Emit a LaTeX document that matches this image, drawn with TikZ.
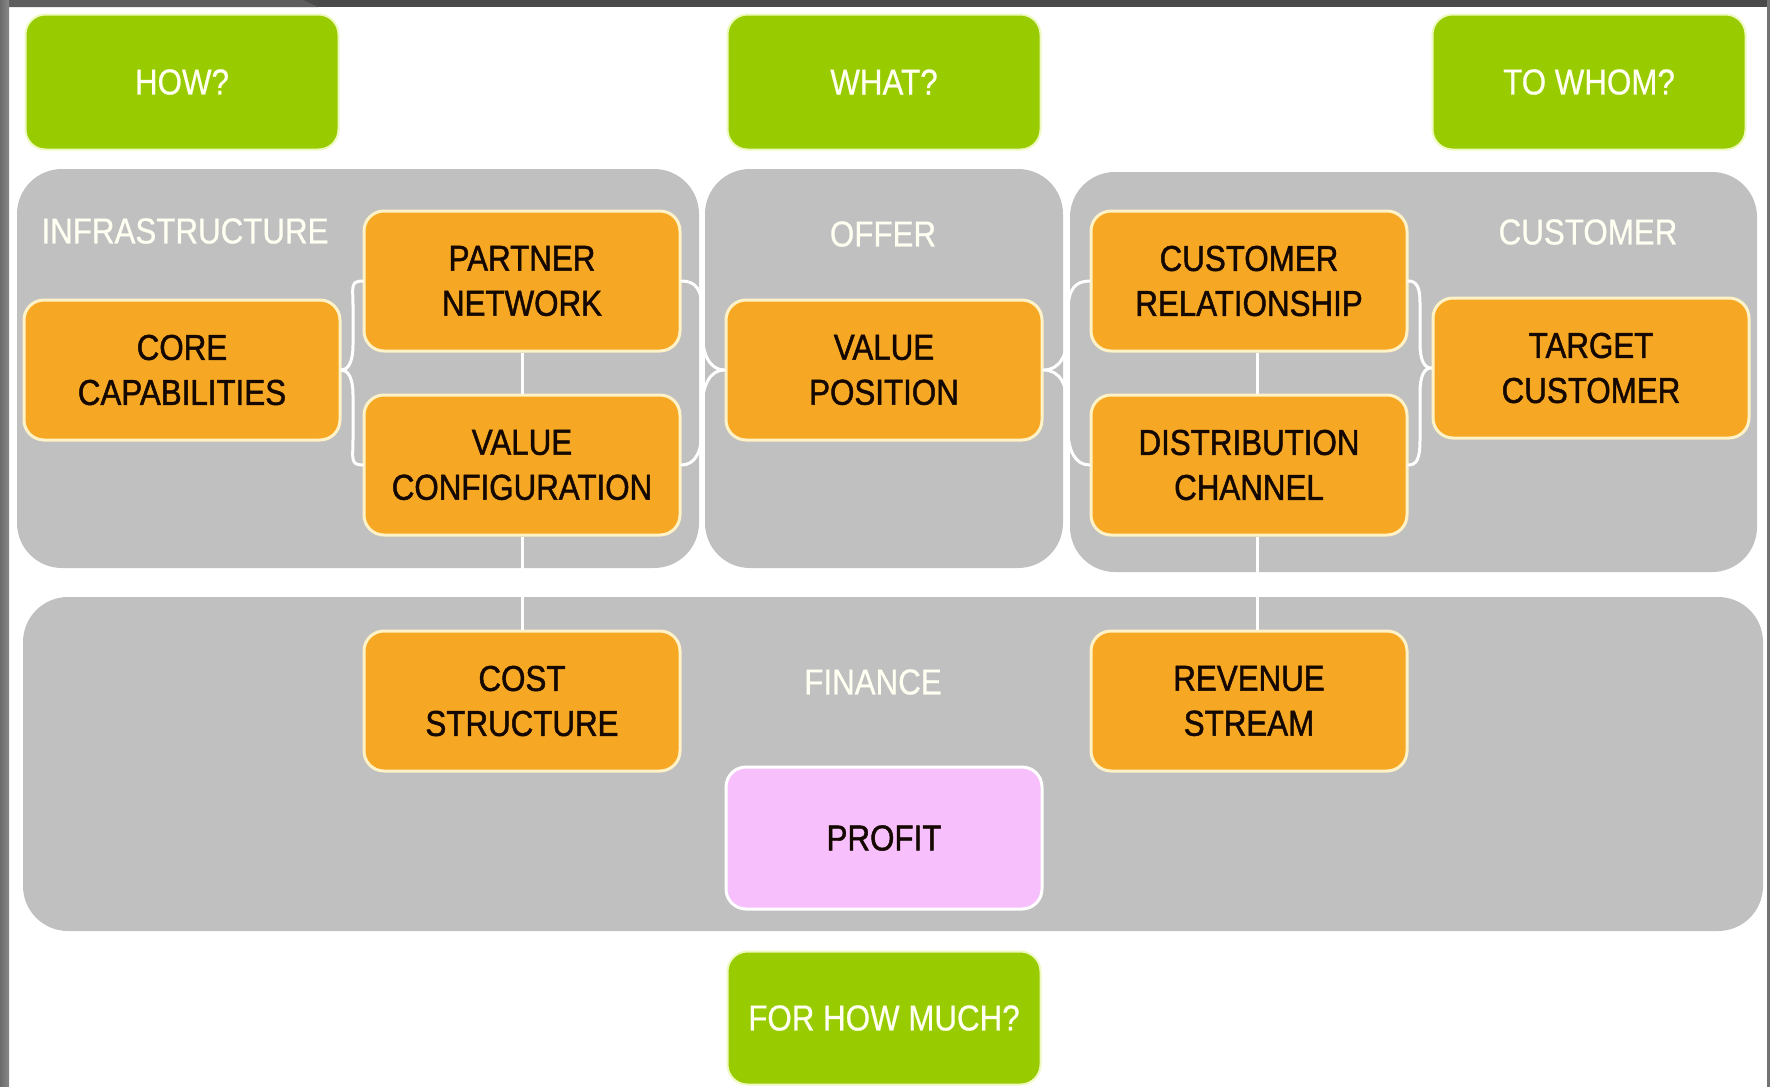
\documentclass[tikz,border=0pt]{standalone}
\usepackage{fontspec}
\setmainfont{Liberation Sans}[FakeStretch=0.87]
\newfontfamily\ofont{Liberation Sans}[FakeStretch=0.87, FakeBold=1.3]
\newfontfamily\wfont{Liberation Sans}[FakeStretch=0.87, FakeBold=0.6]
\definecolor{grn}{HTML}{99CC00}
\definecolor{gbord}{HTML}{EEF9C0}
\definecolor{orng}{HTML}{F6A824}
\definecolor{obord}{HTML}{FFF2C6}
\definecolor{panelgray}{HTML}{C0C0C0}
\definecolor{pinkbox}{HTML}{F7BFFB}
\definecolor{ltext}{HTML}{FFFFF2}
\definecolor{otext}{HTML}{140800}
\definecolor{frametop}{HTML}{4A4A4A}
\definecolor{frametopl}{HTML}{5E5E5E}
\begin{document}
\begin{tikzpicture}[x=1pt,y=-1pt,
  otxt/.style={font=\ofont\fontsize{36}{45}\selectfont},
  wtxt/.style={font=\wfont\fontsize{36}{45}\selectfont},
  panel/.style={fill=panelgray, rounded corners=45pt},
  obox/.style={rectangle, rounded corners=20pt, fill=orng, draw=obord, line width=3pt,
    minimum width=316pt, minimum height=140pt, inner sep=0pt, align=center, otxt, text=otext},
  pbox/.style={obox, fill=pinkbox, draw=white, minimum height=142pt},
  gbox/.style={rectangle, rounded corners=20pt, fill=grn, draw=gbord, line width=2pt,
    minimum width=313pt, minimum height=135pt, inner sep=0pt, align=center, wtxt, text=ltext},
  plabel/.style={inner sep=0pt, wtxt, text=ltext},
  conn/.style={draw=white, line width=3pt},
  brace/.style={draw=white, line width=3pt, line join=round, line cap=round}]
\useasboundingbox (0,0) rectangle (1770,1087);
\fill[white] (0,0) rectangle (1770,1087);
% frame
\fill[frametop] (0,0) rectangle (1770,7);
\fill[frametopl] (0,0) -- (303,0) -- (318,7) -- (0,7) -- cycle;
\fill[left color=black!58, right color=black!47] (0,0) rectangle (9,1087);
\fill[black!55] (1767,0) rectangle (1770,1087);
% panels
\path[panel] (17,169) rectangle (699,568);
\path[panel] (705,169) rectangle (1063,568);
\path[panel] (1070,172) rectangle (1757,572);
\path[panel] (23,597) rectangle (1763,931);
% panel labels
\node[plabel] (linfra) at (185,231) {INFRASTRUCTURE};
\node[plabel] (loffer) at (883,234) {OFFER};
\node[plabel] (lcust) at (1588,232) {CUSTOMER};
\node[plabel] (lfin) at (873,682) {FINANCE};
% green question boxes
\node[gbox] (how) at (182,82) {HOW?};
\node[gbox] (what) at (884,82) {WHAT?};
\node[gbox] (whom) at (1589,82) {TO WHOM?};
\node[gbox, minimum height=133pt] (much) at (884,1018) {FOR HOW MUCH?};
% orange boxes
\node[obox] (core) at (182,370) {CORE\\CAPABILITIES};
\node[obox] (pn) at (522,281) {PARTNER\\NETWORK};
\node[obox] (vc) at (522,465) {VALUE\\CONFIGURATION};
\node[obox] (vp) at (884,370) {VALUE\\POSITION};
\node[obox] (crel) at (1249,281) {CUSTOMER\\RELATIONSHIP};
\node[obox] (dist) at (1249,465) {DISTRIBUTION\\CHANNEL};
\node[obox] (tc) at (1591,368) {TARGET\\CUSTOMER};
\node[obox] (cost) at (522,701) {COST\\STRUCTURE};
\node[obox] (rev) at (1249,701) {REVENUE\\STREAM};
\node[pbox] (profit) at (884,838) {PROFIT};
% connectors
\coordinate (rx) at (1257,0);
\draw[conn] (pn.south) -- (vc.north);
\draw[conn] (vc.south) -- (cost.north);
\draw[conn] (crel.south -| rx) -- (dist.north -| rx);
\draw[conn] (dist.south -| rx) -- (rev.north -| rx);
% braces
\draw[brace] (pn.west) .. controls (350,281) and (353,288) .. (353,305) -- (353,345)
  .. controls (353,362) and (348,370) .. (core.east)
  .. controls (348,370) and (353,378) .. (353,395) -- (353,440)
  .. controls (353,458) and (350,465) .. (vc.west);
\draw[brace] (pn.east) .. controls (696,281) and (702,290) .. (702,310) -- (702,330)
  .. controls (702,355) and (710,370) .. (vp.west)
  .. controls (710,370) and (702,385) .. (702,410) -- (702,430)
  .. controls (702,450) and (696,465) .. (vc.east);
\draw[brace] (crel.west) .. controls (1075,281) and (1068,290) .. (1068,310) -- (1068,330)
  .. controls (1068,355) and (1060,370) .. (vp.east)
  .. controls (1060,370) and (1068,385) .. (1068,410) -- (1068,430)
  .. controls (1068,450) and (1075,465) .. (dist.west);
\draw[brace] (crel.east) .. controls (1417,281) and (1420,288) .. (1420,303) -- (1420,343)
  .. controls (1420,360) and (1424,368) .. (tc.west)
  .. controls (1424,368) and (1420,376) .. (1420,393) -- (1420,440)
  .. controls (1420,458) and (1417,465) .. (dist.east);
\end{tikzpicture}
\end{document}
